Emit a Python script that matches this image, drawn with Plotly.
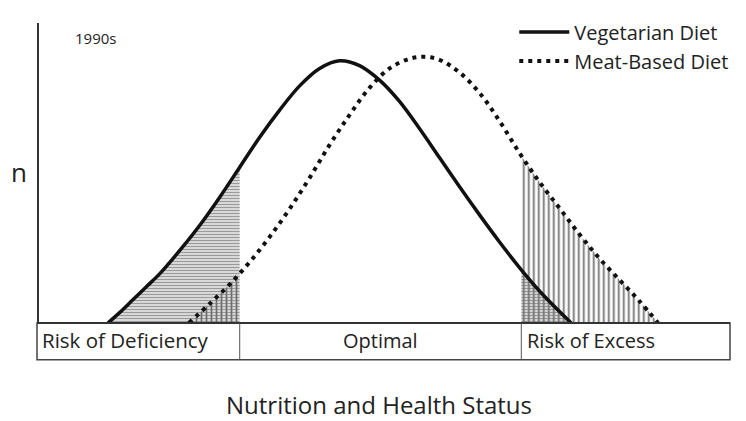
import plotly.graph_objects as go

# ---- data (arbitrary units: status along x, relative frequency n along y) ----
status_veg = [69, 81, 94, 107, 121, 141, 161, 181, 201, 221, 241, 261, 281, 301,
              321, 341, 361, 381, 401, 421, 441, 461, 483, 504, 533]
n_veg = [0, 11, 24, 37, 51, 75, 101, 130, 161, 192, 220, 245, 263, 271,
         266, 251, 229, 201, 171, 141, 112, 84, 55, 30, 0]

status_meat = [150, 171, 191, 211, 231, 251, 271, 291, 311, 331, 351, 371, 386,
               401, 421, 441, 461, 481, 501, 521, 541, 561, 581, 601, 620]
n_meat = [0, 20, 40, 63, 89, 118, 150, 184, 215, 243, 263, 273, 275,
          272, 259, 238, 209, 176, 146, 119, 92, 67, 45, 23, 0]

series_names = ["Vegetarian Diet", "Meat-Based Diet"]
zone_edges = [201, 483]          # deficiency | optimal | excess boundaries
zone_labels = ["Risk of Deficiency", "Optimal", "Risk of Excess"]
x_range = [0, 692]
y_range = [0, 310]

FONT = "Open Sans"
INK = "#222222"

fig = go.Figure()

VEG_HATCH = "#9a9a9a"
MEAT_HATCH = "#6e6e6e"
CLEAR = "rgba(255,255,255,0)"
veg_pat = dict(shape="-", fgcolor=VEG_HATCH, bgcolor="rgba(200,200,200,0.35)", size=3,
               solidity=0.5, fillmode="replace")
meat_pat = dict(shape="|", fgcolor=MEAT_HATCH, bgcolor=CLEAR, size=5, solidity=0.35,
                fillmode="replace")

# hatched tails, clipped by narrow subplots (left tail on x, right tail on x2)
for ax in ["x", "x2"]:
    fig.add_trace(go.Scatter(x=status_veg, y=n_veg, xaxis=ax, yaxis="y",
                             mode="lines", line=dict(width=0, color=VEG_HATCH, shape="spline"),
                             fill="tozeroy", fillcolor=VEG_HATCH,
                             fillpattern=veg_pat, showlegend=False, hoverinfo="skip"))
    fig.add_trace(go.Scatter(x=status_meat, y=n_meat, xaxis=ax, yaxis="y",
                             mode="lines", line=dict(width=0, color=MEAT_HATCH, shape="spline"),
                             fill="tozeroy", fillcolor=MEAT_HATCH,
                             fillpattern=meat_pat, showlegend=False, hoverinfo="skip"))

# main curves on full-width axis x3 (drawn last, on top)
fig.add_trace(go.Scatter(x=status_veg, y=n_veg, xaxis="x3", yaxis="y", mode="lines",
                         name=series_names[0],
                         line=dict(color="#111111", width=3.5, shape="spline")))
fig.add_trace(go.Scatter(x=status_meat, y=n_meat, xaxis="x3", yaxis="y", mode="lines",
                         name=series_names[1],
                         line=dict(color="#111111", width=4, shape="spline", dash="4px,5px")))

span = x_range[1] - x_range[0]
d_left = (zone_edges[0] - x_range[0]) / span
d_right = (zone_edges[1] - x_range[0]) / span

hidden = dict(visible=False, fixedrange=True)
fig.update_layout(
    width=746, height=421,
    margin=dict(l=39, r=15, t=13, b=98),
    paper_bgcolor="white", plot_bgcolor="rgba(0,0,0,0)",
    xaxis=dict(domain=[0, d_left], range=[x_range[0], zone_edges[0]], anchor="y", **hidden),
    xaxis2=dict(domain=[d_right, 1], range=[zone_edges[1], x_range[1]], anchor="y", **hidden),
    xaxis3=dict(domain=[0, 1], range=x_range, anchor="y", **hidden),
    yaxis=dict(domain=[0, 1], range=y_range, anchor="x", showline=True, linecolor="#333333",
               linewidth=2, showticklabels=False, ticks="", showgrid=False, zeroline=False,
               fixedrange=True),
    legend=dict(x=0.6878, y=1.035, xanchor="left", yanchor="top", traceorder="normal",
                itemwidth=50, bgcolor="rgba(0,0,0,0)",
                font=dict(family=FONT, size=20, color=INK)),
    showlegend=True,
)

# bottom zone box
box_y0 = -38 / 310
shapes = [
    dict(type="rect", xref="paper", yref="paper", x0=-2 / 692, x1=1, y0=box_y0, y1=0,
         line=dict(color="#444444", width=1.5)),
    dict(type="line", xref="paper", yref="paper", x0=-2 / 692, x1=1, y0=0, y1=0,
         line=dict(color="#333333", width=2)),
    dict(type="line", xref="paper", yref="paper", x0=d_left, x1=d_left, y0=box_y0, y1=0,
         line=dict(color="#555555", width=1)),
    dict(type="line", xref="paper", yref="paper", x0=d_right, x1=d_right, y0=box_y0, y1=0,
         line=dict(color="#555555", width=1)),
]
fig.update_layout(shapes=shapes)

ly = -18 / 310
anns = [
    dict(text=zone_labels[0], x=1 / 692, y=ly, xanchor="left", font=dict(size=20.5)),
    dict(text=zone_labels[1], x=(d_left + d_right) / 2, y=ly, xanchor="center", font=dict(size=20)),
    dict(text=zone_labels[2], x=d_right + 4 / 692, y=ly, xanchor="left", font=dict(size=20)),
    dict(text="Nutrition and Health Status", x=340 / 692, y=-84 / 310, xanchor="center",
         font=dict(size=24)),
    dict(text="n", x=-20 / 692, y=156 / 310, xanchor="center", font=dict(size=26)),
    dict(text="1990s", x=34 / 692, y=295 / 310, xanchor="left", font=dict(size=15)),
]
for a in anns:
    a.update(xref="paper", yref="paper", yanchor="middle", showarrow=False)
    a["font"].update(family=FONT, color=INK)
fig.update_layout(annotations=anns)

fig.write_html("out.html", config={"displayModeBar": False},
               post_script="document.body.style.margin='0';document.body.style.overflow='hidden';")
